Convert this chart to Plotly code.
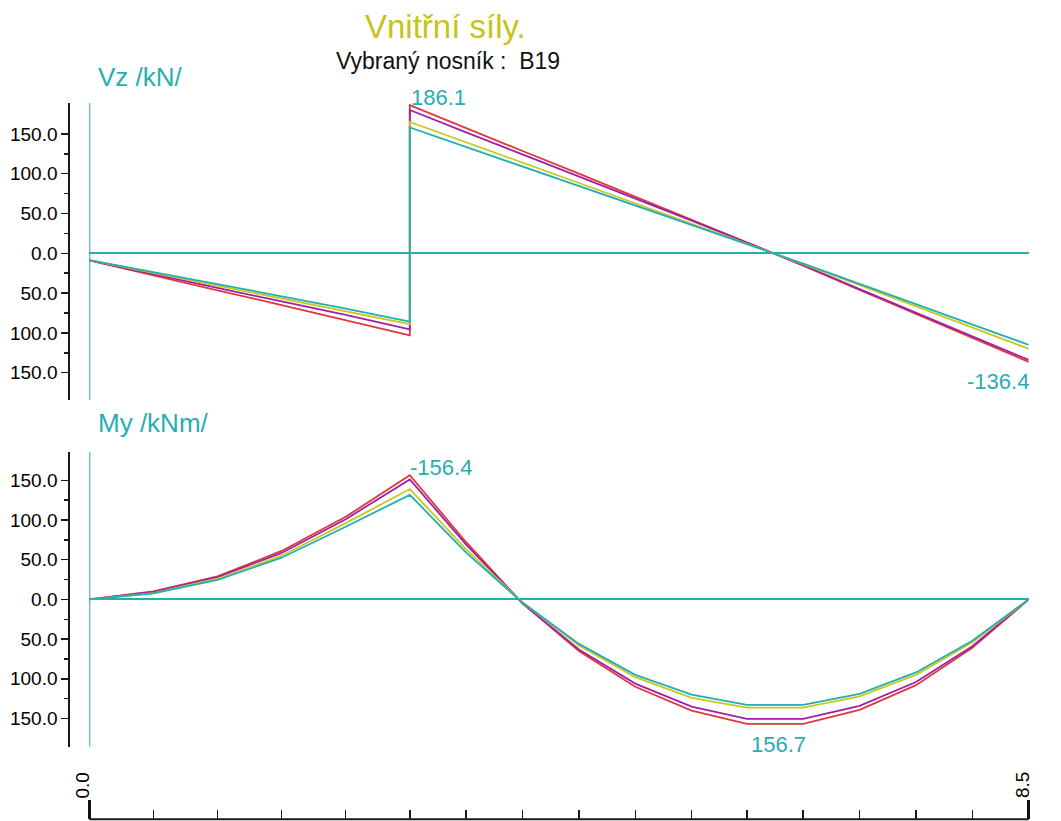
import plotly.graph_objects as go

# ---------------- data ----------------
X_LEFT = [0.00, 0.58, 1.16, 1.74, 2.32, 2.90]
X_RIGHT = [2.90, 3.41, 3.92, 4.43, 4.94, 5.45, 5.95, 6.46, 6.97, 7.48, 7.99, 8.50]

VZ_RED = [-9.0, -28.0, -46.5, -65.0, -84.0, -103.0,
          186.1, 157.0, 128.5, 100.0, 71.0, 42.0, 13.5, -15.5, -46.0, -76.0, -106.0, -136.4]
VZ_PURPLE = [-9.0, -26.5, -43.5, -60.5, -77.5, -95.5,
             180.0, 152.0, 124.5, 97.0, 69.0, 41.0, 13.5, -15.0, -45.0, -74.5, -104.0, -134.0]
VZ_YELLOW = [-8.5, -24.5, -40.5, -56.5, -72.5, -89.0,
             165.0, 139.5, 114.0, 88.5, 63.0, 37.5, 12.0, -13.5, -40.0, -66.5, -93.0, -120.0]
VZ_CYAN = [-8.5, -23.5, -39.0, -54.0, -69.5, -86.0,
           158.0, 133.5, 109.0, 84.5, 60.0, 36.0, 11.5, -13.0, -38.5, -64.0, -89.5, -115.0]

MY_RED = [0.0, -10.0, -29.0, -61.0, -104.0, -156.4,
          -72.0, 5.0, 65.0, 110.0, 140.0, 156.7, 156.7, 139.0, 108.0, 61.0, 0.0]
MY_PURPLE = [0.0, -9.5, -28.0, -58.5, -101.0, -151.0,
             -69.0, 5.0, 63.0, 106.0, 135.0, 150.5, 150.5, 134.0, 104.0, 59.0, 0.0]
MY_YELLOW = [0.0, -8.0, -26.0, -55.0, -96.0, -139.0,
             -63.0, 4.0, 58.0, 98.0, 124.0, 136.3, 136.3, 122.0, 95.0, 54.0, 0.0]
MY_CYAN = [0.0, -7.5, -24.5, -52.5, -91.5, -131.6,
           -59.0, 4.0, 56.0, 95.0, 120.0, 132.9, 132.9, 119.0, 92.0, 52.0, 0.0]

Y_TICKS = [-150, -100, -50, 0, 50, 100, 150]
Y_MINOR = [-125, -75, -25, 25, 75, 125]
X_END_LABELS = ["0.0", "8.5"]

TITLE = "Vnitřní síly."
SUBTITLE = "Vybraný nosník :  B19"
VZ_LABEL = "Vz /kN/"
MY_LABEL = "My /kNm/"

# ---------------- styling ----------------
W, H = 1061, 821
RED, PURPLE, YELLOW, CYAN = "#E0383C", "#A021A8", "#C9C81E", "#22AFB2"
TEAL_TXT = "#27AEB4"
TITLE_COL = "#C8C31A"
FONT = "Liberation Sans, Arial, sans-serif"
AX_COL = "#1a1a1a"


def fx(px):
    return px / W


def fy(py):
    return 1 - py / H


X_VZ = X_LEFT + X_RIGHT
X_MY = X_LEFT + X_RIGHT[1:]
ALL_TICKS = X_LEFT + X_RIGHT[1:]
END_TICKS = [ALL_TICKS[0], ALL_TICKS[-1]]
INNER_TICKS = ALL_TICKS[1:-1]

fig = go.Figure()
for ys, col in [(VZ_RED, RED), (VZ_PURPLE, PURPLE), (VZ_YELLOW, YELLOW), (VZ_CYAN, CYAN)]:
    fig.add_trace(go.Scatter(x=X_VZ, y=ys, mode="lines", line=dict(color=col, width=1.8),
                             xaxis="x", yaxis="y", hoverinfo="skip", showlegend=False))
for ys, col in [(MY_RED, RED), (MY_PURPLE, PURPLE), (MY_YELLOW, YELLOW), (MY_CYAN, CYAN)]:
    fig.add_trace(go.Scatter(x=X_MY, y=ys, mode="lines", line=dict(color=col, width=1.8),
                             xaxis="x2", yaxis="y2", hoverinfo="skip", showlegend=False))
# invisible carrier so the position ruler axis gets drawn
fig.add_trace(go.Scatter(x=ALL_TICKS, y=[0] * len(ALL_TICKS), mode="markers",
                         marker=dict(opacity=0), xaxis="x3", yaxis="y3",
                         hoverinfo="skip", showlegend=False))

X0_PX, X1_PX = 89.3, 1028.7
x_dom = [fx(X0_PX), fx(X1_PX)]
ticktext = [f"{abs(v):.1f}" for v in Y_TICKS]

yax_common = dict(
    anchor="free", position=fx(69.3), side="left",
    showline=True, linecolor=AX_COL, linewidth=2,
    ticks="outside", ticklen=7, tickwidth=1.5, tickcolor=AX_COL,
    tickvals=Y_TICKS, ticktext=ticktext,
    tickfont=dict(family=FONT, size=19, color="#000000"),
    minor=dict(tickvals=Y_MINOR, ticks="outside", ticklen=4, tickwidth=1.5, tickcolor=AX_COL),
    showgrid=False, zeroline=True, zerolinecolor=CYAN, zerolinewidth=2,
    fixedrange=True,
)

# small range pad on the ruler (compensated in its domain) so plotly keeps the end ticks
PAD = 0.02
PAD_PX = PAD * (X1_PX - X0_PX) / 8.5
fig.update_layout(
    width=W, height=H,
    margin=dict(l=0, r=0, t=0, b=0),
    paper_bgcolor="white", plot_bgcolor="rgba(0,0,0,0)",
    showlegend=False,
    xaxis=dict(domain=x_dom, range=[0, 8.5], visible=False, anchor="y", fixedrange=True),
    yaxis=dict(domain=[fy(400), fy(103)], range=[-184.3, 188.8], **yax_common),
    xaxis2=dict(domain=x_dom, range=[0, 8.5], visible=False, anchor="y2", fixedrange=True),
    yaxis2=dict(domain=[fy(746.7), fy(451.7)], range=[185.5, -186.0], **yax_common),
    xaxis3=dict(domain=[fx(X0_PX - PAD_PX), fx(X1_PX + PAD_PX)], range=[-PAD, 8.5 + PAD],
                anchor="y3", showline=False,
                ticks="inside", ticklen=19, tickwidth=3, tickcolor="#111111",
                tickvals=END_TICKS, ticktext=["", ""],
                minor=dict(tickvals=INNER_TICKS, ticks="inside", ticklen=9, tickwidth=1.5,
                           tickcolor=AX_COL),
                showgrid=False, zeroline=False, fixedrange=True),
    yaxis3=dict(domain=[fy(819.3), fy(760)], range=[0, 1], visible=False, anchor="x3",
                fixedrange=True),
)

# ruler base line between the end ticks, and vertical reference lines at x = 0
fig.add_shape(type="line", xref="x3", yref="y3 domain", x0=END_TICKS[0], x1=END_TICKS[1],
              y0=0, y1=0, line=dict(color=AX_COL, width=2))
for xr, yr in [("x", "y domain"), ("x2", "y2 domain")]:
    fig.add_shape(type="line", xref=xr, yref=yr, x0=0, x1=0, y0=0, y1=1,
                  line=dict(color=CYAN, width=2), layer="below")

ann = []
ann.append(dict(text=TITLE, x=fx(445), y=fy(26), xanchor="center", yanchor="middle",
                font=dict(family=FONT, size=33, color=TITLE_COL)))
ann.append(dict(text=SUBTITLE, x=fx(447.5), y=fy(61), xanchor="center", yanchor="middle",
                font=dict(family=FONT, size=23, color="#111111")))
ann.append(dict(text=VZ_LABEL, x=fx(96), y=fy(77), xanchor="left", yanchor="middle",
                font=dict(family=FONT, size=26, color=TEAL_TXT)))
ann.append(dict(text=MY_LABEL, x=fx(96), y=fy(423), xanchor="left", yanchor="middle",
                font=dict(family=FONT, size=26, color=TEAL_TXT)))
ann.append(dict(text=f"{max(VZ_RED):.1f}", x=fx(409), y=fy(97), xanchor="left", yanchor="middle",
                font=dict(family=FONT, size=22, color=TEAL_TXT)))
ann.append(dict(text=f"{min(VZ_RED):.1f}", x=fx(1031), y=fy(381), xanchor="right", yanchor="middle",
                font=dict(family=FONT, size=22, color=TEAL_TXT)))
ann.append(dict(text=f"{min(MY_RED):.1f}", x=fx(408), y=fy(467), xanchor="left", yanchor="middle",
                font=dict(family=FONT, size=22, color=TEAL_TXT)))
ann.append(dict(text=f"{max(MY_RED):.1f}", x=fx(778.5), y=fy(744), xanchor="center", yanchor="middle",
                font=dict(family=FONT, size=22, color=TEAL_TXT)))
ann.append(dict(text=X_END_LABELS[0], x=fx(82), y=fy(785.5), xanchor="center", yanchor="middle",
                textangle=-90, font=dict(family=FONT, size=19, color="#000000")))
ann.append(dict(text=X_END_LABELS[1], x=fx(1022.5), y=fy(785.5), xanchor="center", yanchor="middle",
                textangle=-90, font=dict(family=FONT, size=19, color="#000000")))
for a in ann:
    a.update(xref="paper", yref="paper", showarrow=False)
fig.update_layout(annotations=ann)

fig.write_html("out.html", config={"displayModeBar": False, "staticPlot": True},
               post_script="document.body.style.margin='0px';document.body.style.overflow='hidden';")
